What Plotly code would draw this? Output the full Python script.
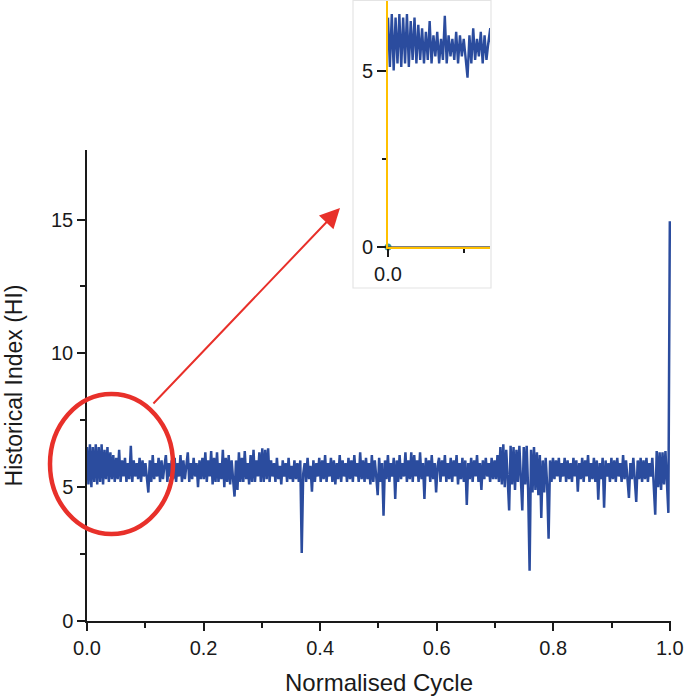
import numpy as np
import plotly.graph_objects as go

# Historical Index, evenly spaced along the normalised cycle
hi_values = [
    6.5, 5.1, 6.6, 5.0, 6.5, 5.2, 6.6, 5.1, 6.5, 5.2, 6.6, 5.1, 6.4, 5.3, 6.5, 5.2, 6.3, 5.3, 6.2, 5.2,
    6.1, 5.3, 6.4, 5.2, 6.0, 5.4, 6.1, 5.2, 5.9, 5.3, 6.55, 5.2, 6.0, 5.4, 5.9, 5.3, 6.1, 5.2, 6.0, 5.4,
    5.9, 5.3, 4.8, 6.0, 5.2, 6.2, 5.3, 5.9, 5.4, 6.1, 5.2, 6.0, 5.3, 5.8, 6.2, 5.2, 5.9, 5.4, 6.0, 5.3,
    6.1, 5.2, 5.9, 5.4, 6.2, 5.2, 6.0, 5.3, 5.8, 6.3, 5.2, 5.9, 5.3, 6.1, 5.4, 5.9, 5.0, 6.0, 5.3, 6.1,
    5.3, 6.3, 5.2, 6.0, 5.4, 6.35, 5.1, 6.1, 5.2, 6.3, 5.2, 5.9, 5.3, 6.4, 5.0, 6.1, 5.2, 6.2, 5.1, 6.0,
    5.3, 4.65, 6.0, 4.9, 6.3, 5.2, 6.1, 5.2, 6.35, 5.3, 5.9, 5.1, 6.2, 5.2, 6.4, 5.2, 6.0, 5.4, 6.3, 5.2,
    6.45, 5.2, 6.4, 5.3, 6.45, 5.2, 6.0, 5.4, 5.9, 5.2, 6.1, 5.3, 5.8, 5.1, 6.0, 5.4, 5.9, 5.2, 6.1, 5.3,
    5.8, 5.2, 6.0, 5.3, 5.9, 5.2, 6.0, 2.54, 5.5, 5.9, 5.2, 6.1, 5.3, 5.8, 4.83, 6.0, 5.2, 5.9, 5.4, 6.1,
    5.2, 6.0, 5.3, 6.2, 5.2, 5.9, 5.4, 6.1, 5.2, 6.0, 5.1, 5.9, 5.3, 6.2, 5.2, 6.0, 5.4, 5.9, 5.2, 6.1,
    5.3, 6.0, 5.2, 6.2, 5.4, 5.9, 5.2, 6.3, 5.3, 6.0, 5.2, 6.1, 5.3, 5.9, 5.1, 6.2, 5.2, 6.0, 5.4, 4.7,
    6.1, 5.2, 5.9, 3.93, 6.0, 5.3, 6.2, 5.2, 5.9, 5.4, 6.1, 4.56, 6.0, 5.2, 6.2, 5.3, 5.9, 5.4, 6.3, 5.2,
    6.0, 5.3, 6.3, 5.2, 6.2, 5.4, 6.0, 5.2, 6.3, 5.3, 5.9, 4.56, 6.1, 5.4, 6.0, 5.2, 6.2, 5.3, 5.9, 4.8,
    5.8, 6.1, 5.2, 6.0, 5.4, 6.2, 5.2, 5.9, 5.3, 6.1, 5.2, 6.0, 5.4, 6.2, 5.1, 5.9, 5.3, 6.1, 5.2, 6.0,
    4.34, 5.9, 5.3, 6.1, 5.2, 6.0, 5.4, 6.2, 5.2, 5.9, 4.9, 6.0, 5.3, 6.1, 5.4, 5.9, 5.2, 6.1, 5.3, 6.0,
    5.3, 6.2, 5.2, 6.5, 5.1, 6.6, 5.0, 6.4, 5.3, 4.13, 6.55, 5.1, 6.5, 4.9, 6.4, 5.2, 6.55, 5.0, 4.13, 6.5,
    5.1, 6.55, 4.9, 1.88, 6.4, 4.8, 6.5, 4.9, 6.3, 4.7, 6.2, 3.85, 6.0, 4.8, 6.1, 5.1, 3.07, 6.0, 5.2, 6.1,
    5.3, 6.0, 5.4, 6.1, 5.2, 5.9, 5.4, 6.1, 5.2, 6.0, 5.3, 5.9, 5.2, 6.1, 5.4, 6.0, 4.83, 5.9, 5.3, 6.1,
    5.2, 6.0, 5.4, 6.2, 5.2, 5.9, 5.3, 6.1, 5.2, 6.0, 4.53, 5.9, 5.3, 6.1, 4.23, 6.0, 5.4, 5.9, 5.2, 6.1,
    5.3, 6.0, 5.2, 6.1, 5.4, 5.9, 5.2, 6.2, 5.3, 6.0, 5.4, 4.6, 5.9, 5.3, 6.1, 5.2, 4.45, 6.0, 5.3, 6.1,
    5.2, 6.0, 5.3, 6.1, 5.2, 5.9, 5.4, 6.1, 5.2, 3.97, 6.35, 5.0, 6.3, 4.9, 6.3, 5.1, 6.35, 4.9, 4.04, 14.94,
]
cycle = np.linspace(0.0, 1.0, len(hi_values))

x_tick_vals = [0.0, 0.2, 0.4, 0.6, 0.8, 1.0]
x_tick_text = ["0.0", "0.2", "0.4", "0.6", "0.8", "1.0"]
x_minor_vals = [0.1, 0.3, 0.5, 0.7, 0.9]
y_tick_vals = [0, 5, 10, 15]
y_minor_vals = [2.5, 7.5, 12.5]

inset_x_tick_vals = [0.0]
inset_x_tick_text = ["0.0"]
inset_x_minor_vals = [0.1]
inset_y_tick_vals = [0, 5]
inset_y_minor_vals = [2.5]
inset_origin_x = [0.0]
inset_origin_y = [0.0]

W, H = 685, 698
L, R, T, B = 87, 14, 0, 77
PW, PH = W - L - R, H - T - B


def px(xp):
    return (xp - L) / PW


def py(yp):
    return (H - B - yp) / PH


FONT = "Liberation Sans, Arial, sans-serif"
BLUE = "#2B4C9E"
RED = "#E8302A"
YELLOW = "#FFC000"
INK = "#1A1A1A"

fig = go.Figure()
fig.add_trace(go.Scatter(x=cycle, y=hi_values, mode="lines",
                         line=dict(color=BLUE, width=2.5), xaxis="x", yaxis="y"))
fig.add_trace(go.Scatter(x=cycle, y=hi_values, mode="lines",
                         line=dict(color=BLUE, width=2.4), xaxis="x2", yaxis="y2"))
fig.add_trace(go.Scatter(x=inset_origin_x, y=inset_origin_y, mode="markers",
                         marker=dict(color="#3A9A9A", size=7), cliponaxis=False,
                         xaxis="x2", yaxis="y2"))

axis_common = dict(showgrid=False, zeroline=False, showline=True, ticks="outside",
                   automargin=False,
                   tickfont=dict(family=FONT, size=20, color=INK))

fig.update_layout(
    width=W, height=H,
    margin=dict(l=L, r=R, t=T, b=B),
    paper_bgcolor="white", plot_bgcolor="white",
    showlegend=False,
    font=dict(family=FONT, color=INK),
    xaxis=dict(domain=[0, 1], range=[0, 1.002], linecolor=INK, linewidth=1.5,
               tickcolor=INK, tickwidth=1.5, ticklen=8,
               tickvals=x_tick_vals, ticktext=x_tick_text,
               minor=dict(tickvals=x_minor_vals, ticks="outside", ticklen=5,
                          tickwidth=1.5, tickcolor=INK),
               title=dict(text="Normalised Cycle", font=dict(family=FONT, size=24, color=INK),
                          standoff=16),
               **axis_common),
    yaxis=dict(domain=[0, py(150)], range=[0, 17.6], linecolor=INK, linewidth=1.5,
               tickcolor=INK, tickwidth=1.5, ticklen=8,
               tickvals=y_tick_vals,
               minor=dict(tickvals=y_minor_vals, ticks="outside", ticklen=5,
                          tickwidth=1.5, tickcolor=INK),
               title=dict(text="Historical Index (HI)", font=dict(family=FONT, size=23, color=INK),
                          standoff=22),
               **axis_common),
    xaxis2=dict(domain=[px(388), px(490)], anchor="y2", range=[0, 0.135],
                linecolor=YELLOW, linewidth=2, tickcolor=INK, tickwidth=1.5, ticklen=8,
                tickvals=inset_x_tick_vals, ticktext=inset_x_tick_text,
                minor=dict(tickvals=inset_x_minor_vals, ticks="outside", ticklen=4,
                           tickwidth=1.5, tickcolor=INK),
                **axis_common),
    yaxis2=dict(domain=[py(247), 1], anchor="x2", range=[0, 7.0],
                linecolor=YELLOW, linewidth=2, tickcolor=INK, tickwidth=1.5, ticklen=9,
                tickvals=inset_y_tick_vals,
                minor=dict(tickvals=inset_y_minor_vals, ticks="outside", ticklen=4,
                           tickwidth=1.5, tickcolor=INK),
                **axis_common),
    shapes=[
        dict(type="rect", xref="paper", yref="paper", x0=px(353), x1=px(491),
             y0=py(288), y1=py(0.5), line=dict(color="#E4E4E4", width=1.2), layer="above"),
        dict(type="line", xref="x2", yref="y2", x0=0, x1=0.135, y0=0, y1=0,
             line=dict(color="#555", width=1.5), layer="above"),
        dict(type="circle", xref="paper", yref="paper", x0=px(50), x1=px(173),
             y0=py(534), y1=py(394), line=dict(color=RED, width=4.5), layer="above"),
    ],
    annotations=[
        dict(xref="paper", yref="paper", x=px(340), y=py(208), text="",
             showarrow=True, axref="pixel", ayref="pixel", ax=152 - 340, ay=405 - 208,
             arrowcolor=RED, arrowwidth=2, arrowhead=2, arrowsize=2.0, standoff=0),
    ],
)

fig.write_html("out.html", config={"displayModeBar": False},
               post_script="document.body.style.margin='0px';")
